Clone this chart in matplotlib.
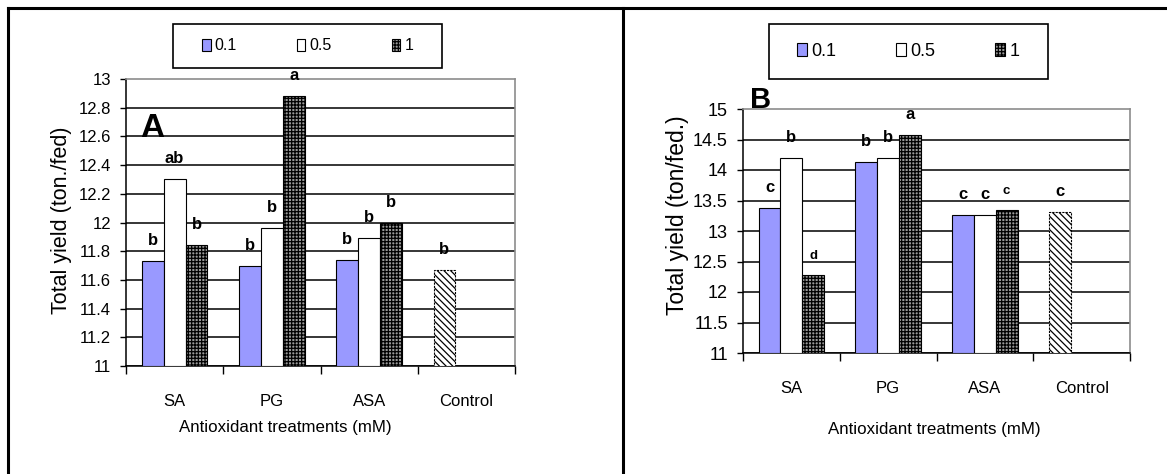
import matplotlib
matplotlib.use("Agg")
import matplotlib.pyplot as plt
from matplotlib.lines import Line2D
from matplotlib.patches import Patch, Rectangle
import numpy as np

# ---- data ----
categories = ["SA", "PG", "ASA", "Control"]
conc_labels = ["0.1", "0.5", "1"]

# panel A
a_01 = [11.73, 11.70, 11.74]
a_05 = [12.30, 11.96, 11.89]
a_1 = [11.84, 12.88, 12.00]
a_control = 11.67
a_let_01 = ["b", "b", "b"]
a_let_05 = ["ab", "b", "b"]
a_let_1 = ["b", "a", "b"]
a_let_control = "b"

# panel B
b_01 = [13.37, 14.13, 13.26]
b_05 = [14.20, 14.20, 13.26]
b_1 = [12.28, 14.58, 13.34]
b_control = 13.31
b_let_01 = ["c", "b", "c"]
b_let_05 = ["b", "b", "c"]
b_let_1 = ["d", "a", "c"]
b_let_control = "c"
b_small_1 = [True, False, True]   # letters printed smaller in the original

plt.rcParams["font.family"] = ["Liberation Sans", "DejaVu Sans"]
plt.rcParams["hatch.linewidth"] = 0.9

blue = "#9999ff"
styles = [dict(color=blue, hatch=None),
          dict(color="white", hatch=None),
          dict(color="#9a9a9a", hatch="+++++")]
control_style = dict(color="white", hatch="\\\\\\\\\\")

W, H = 1167, 474
fig = plt.figure(figsize=(W / 100, H / 100), dpi=100)

width = 0.225


def panel(ax, series, letters, small, control, control_letter, ylim, step,
          tick_fs, ylabel, ylab_xy, xlab_xy, label, label_xy, label_size):
    idx = np.arange(3)
    for j, vals in enumerate(series):
        st = styles[j]
        xs = idx + 0.5 + (j - 1) * width
        ax.bar(xs, np.array(vals) - ylim[0], width, bottom=ylim[0],
               color=st["color"], hatch=st["hatch"], edgecolor="black",
               linewidth=0.8, zorder=3)
        for k, (x, v) in enumerate(zip(xs, vals)):
            fs = 9.5 if small[j][k] else 12
            ax.annotate(letters[j][k], (x, v), xytext=(0, 11.5),
                        textcoords="offset points", ha="center", va="baseline",
                        fontsize=fs, fontweight="bold")
    cx = 3 + 0.5 - width
    ax.bar(cx, control - ylim[0], width, bottom=ylim[0], color=control_style["color"],
           hatch=control_style["hatch"], edgecolor="black", linewidth=0.8,
           linestyle=(0, (2, 1)), zorder=3)
    ax.annotate(control_letter, (cx, control), xytext=(0, 11.5),
                textcoords="offset points", ha="center", va="baseline",
                fontsize=12, fontweight="bold")

    ax.set_xlim(0, 4)
    ax.set_ylim(*ylim)
    yt = np.arange(ylim[0], ylim[1] + step / 2, step)
    ax.set_yticks(yt)
    ax.set_yticklabels([f"{v:g}" for v in yt], fontsize=tick_fs)
    ax.set_xticks(np.arange(5))
    ax.set_xticklabels([])
    ax.set_xticks(np.arange(4) + 0.5, minor=True)
    ax.set_xticklabels(categories, minor=True, fontsize=12)
    ax.tick_params(axis="x", which="major", direction="out", length=6, width=1)
    ax.tick_params(axis="x", which="minor", length=0, pad=20.5)
    ax.tick_params(axis="y", direction="out", length=4.3, width=1, pad=6.5)

    ax.grid(axis="y", color="black", linewidth=1.1, zorder=0)
    ax.set_axisbelow(True)
    ax.get_ygridlines()[-1].set_visible(False)
    for s in ["top", "right"]:
        ax.spines[s].set_color("#8c8c8c")
        ax.spines[s].set_linewidth(1.2)
    for s in ["left", "bottom"]:
        ax.spines[s].set_color("black")
        ax.spines[s].set_linewidth(1.1)

    ax.set_ylabel(ylabel, fontsize=ylab_xy[2])
    ax.yaxis.set_label_coords(ylab_xy[0], ylab_xy[1])
    ax.set_xlabel("Antioxidant treatments (mM)", fontsize=12.2)
    ax.xaxis.set_label_coords(*xlab_xy)
    ax.text(label_xy[0], label_xy[1], label, transform=ax.transAxes,
            ha="center", va="baseline", fontsize=label_size, fontweight="bold")


def fig_box(x0, y0, x1, y1):
    # pixel coords from the top-left corner
    return (x0 / W, 1 - y1 / H, (x1 - x0) / W, (y1 - y0) / H)


axA = fig.add_axes(fig_box(126, 79, 515, 366))
panel(axA, [a_01, a_05, a_1], [a_let_01, a_let_05, a_let_1],
      [[False] * 3] * 3, a_control, a_let_control, (11, 13), 0.2, 12,
      "Total yield (ton./fed)", (-0.139, 0.509, 15.5), (0.409, -0.188),
      "A", (0.067, 0.798), 24)

axB = fig.add_axes(fig_box(743, 109, 1130, 353))
panel(axB, [b_01, b_05, b_1], [b_let_01, b_let_05, b_let_1],
      [[False] * 3, [False] * 3, b_small_1], b_control, b_let_control, (11, 15), 0.5, 13,
      "Total yield (ton/fed.)", (-0.14, 0.564, 16.5), (0.494, -0.283),
      "B", (0.046, 1.004), 21)

# legends drawn frameless inside a hand-placed box
handles = [Patch(facecolor=s["color"], hatch=s["hatch"], edgecolor="black", linewidth=0.8)
           for s in styles]
for (x0, y0, x1, y1), fs, cs in [((173, 24, 442, 68), 11.5, 3.75), ((769, 24, 1048, 79), 13, 3.3)]:
    bx = fig_box(x0, y0, x1, y1)
    fig.add_artist(Rectangle(bx[:2], bx[2], bx[3], transform=fig.transFigure,
                             fill=False, edgecolor="black", linewidth=1.2))
    fig.legend(handles, conc_labels, loc="center", ncol=3, frameon=False,
               bbox_to_anchor=(bx[0] + bx[2] / 2, bx[1] + bx[3] / 2),
               fontsize=fs, handlelength=0.55, handleheight=0.75,
               handletextpad=0.25, columnspacing=cs, borderpad=0)

# table-like frame lines around the two panels
for xs, ys in [((8 / W, 1), (1 - 8 / H, 1 - 8 / H)),
               ((8 / W, 8 / W), (0, 1 - 8 / H)),
               ((623 / W, 623 / W), (0, 1 - 8 / H))]:
    fig.add_artist(Line2D(xs, ys, transform=fig.transFigure, color="black", linewidth=2.2))

fig.savefig("out.png", dpi=100)
